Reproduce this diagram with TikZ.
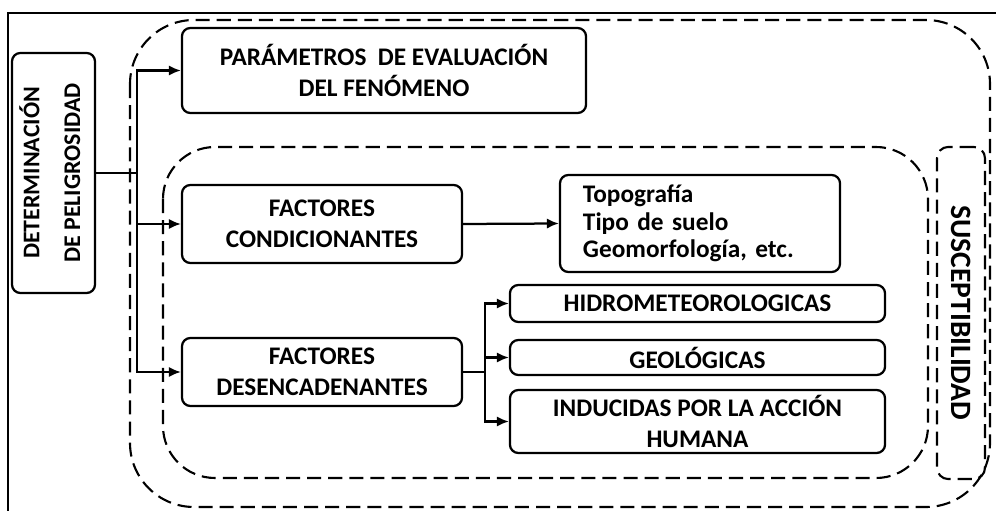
\documentclass[tikz,border=0pt]{standalone}
\usepackage{fontspec}
\setmainfont{Carlito}
\usetikzlibrary{arrows.meta, positioning}

\begin{document}
\begin{tikzpicture}[
  x=0.025cm, y=-0.025cm,
  box/.style={rectangle, draw=black, rounded corners=6pt, line width=1.6pt,
             align=center, inner sep=2pt, font=\fontsize{18}{22}\selectfont\bfseries},
  zone/.style={draw=black, line width=1.5pt, dash pattern=on 10pt off 5pt},
  link/.style={line width=1.6pt},
  arrow/.style={link, -{Latex[length=3mm, width=2.6mm]}}
]
\useasboundingbox (0,0) rectangle (996,511);

% frame and dashed zones
\draw[link] (8,530) |- (1010,13);
\draw[zone, rounded corners=1.6cm] (130,20) rectangle (990,507);
\draw[zone, rounded corners=1.3cm] (163,147) rectangle (928,478);

\node[box, font=\fontsize{17}{22}\selectfont\bfseries, minimum width=2.075cm, minimum height=6cm]
  (det) at (53.5,173) {%
  \rotatebox{90}{\begin{tabular}{@{}c@{}}DETERMINACIÓN\\[7pt]DE PELIGROSIDAD\end{tabular}}};
\node[box, minimum width=10.1cm, minimum height=2.125cm] (par) at (384,70.5) {%
  PARÁMETROS\ \ DE EVALUACIÓN\\DEL FENÓMENO};
\node[box, minimum width=7cm, minimum height=1.95cm] (cond) at (322,224) {%
  FACTORES\\CONDICIONANTES};
\node[box, minimum width=7cm, minimum height=1.7cm] (desc) at (322,372) {%
  FACTORES\\DESENCADENANTES};
\node[box, font=\fontsize{18}{19.5}\selectfont\bfseries, minimum width=7cm,
  minimum height=2.425cm, text width=5.85cm, align=left] (topo) at (700,223.5) {%
  Topografía\\Tipo de suelo\\Geomorfología, etc.};
\node[box, minimum width=9.375cm, minimum height=0.925cm] (hidro) at (697.5,303.5) {%
  HIDROMETEOROLOGICAS};
\node[box, minimum width=9.375cm, minimum height=0.875cm] (geol) at (697.5,357.5) {%
  GEOLÓGICAS};
\node[box, minimum width=9.375cm, minimum height=1.575cm] (induc) at (697.5,421.5) {%
  INDUCIDAS POR LA ACCIÓN\\HUMANA};
\node[box, zone, font=\fontsize{21}{24}\selectfont\bfseries, rounded corners=8pt,
  minimum width=1.2cm, minimum height=8.3cm] (susc) at (961,313) {%
  \rotatebox{-90}{SUSCEPTIBILIDAD}};

% connectors
\coordinate (bus) at (137,173);
\draw[link] (det.east) -- (bus);
\draw[arrow] (bus) |- (par.west);
\draw[arrow] (bus) |- (cond.west);
\draw[arrow] (bus) |- (desc.west);
\draw[arrow] (cond.east) -- (topo.west);

\coordinate (split) at (485,372);
\draw[link] (desc.east) -- (split);
\draw[arrow] (split) |- (hidro.west);
\draw[arrow] (split) |- (geol.west);
\draw[arrow] (split) |- (induc.west);

\end{tikzpicture}
\end{document}
